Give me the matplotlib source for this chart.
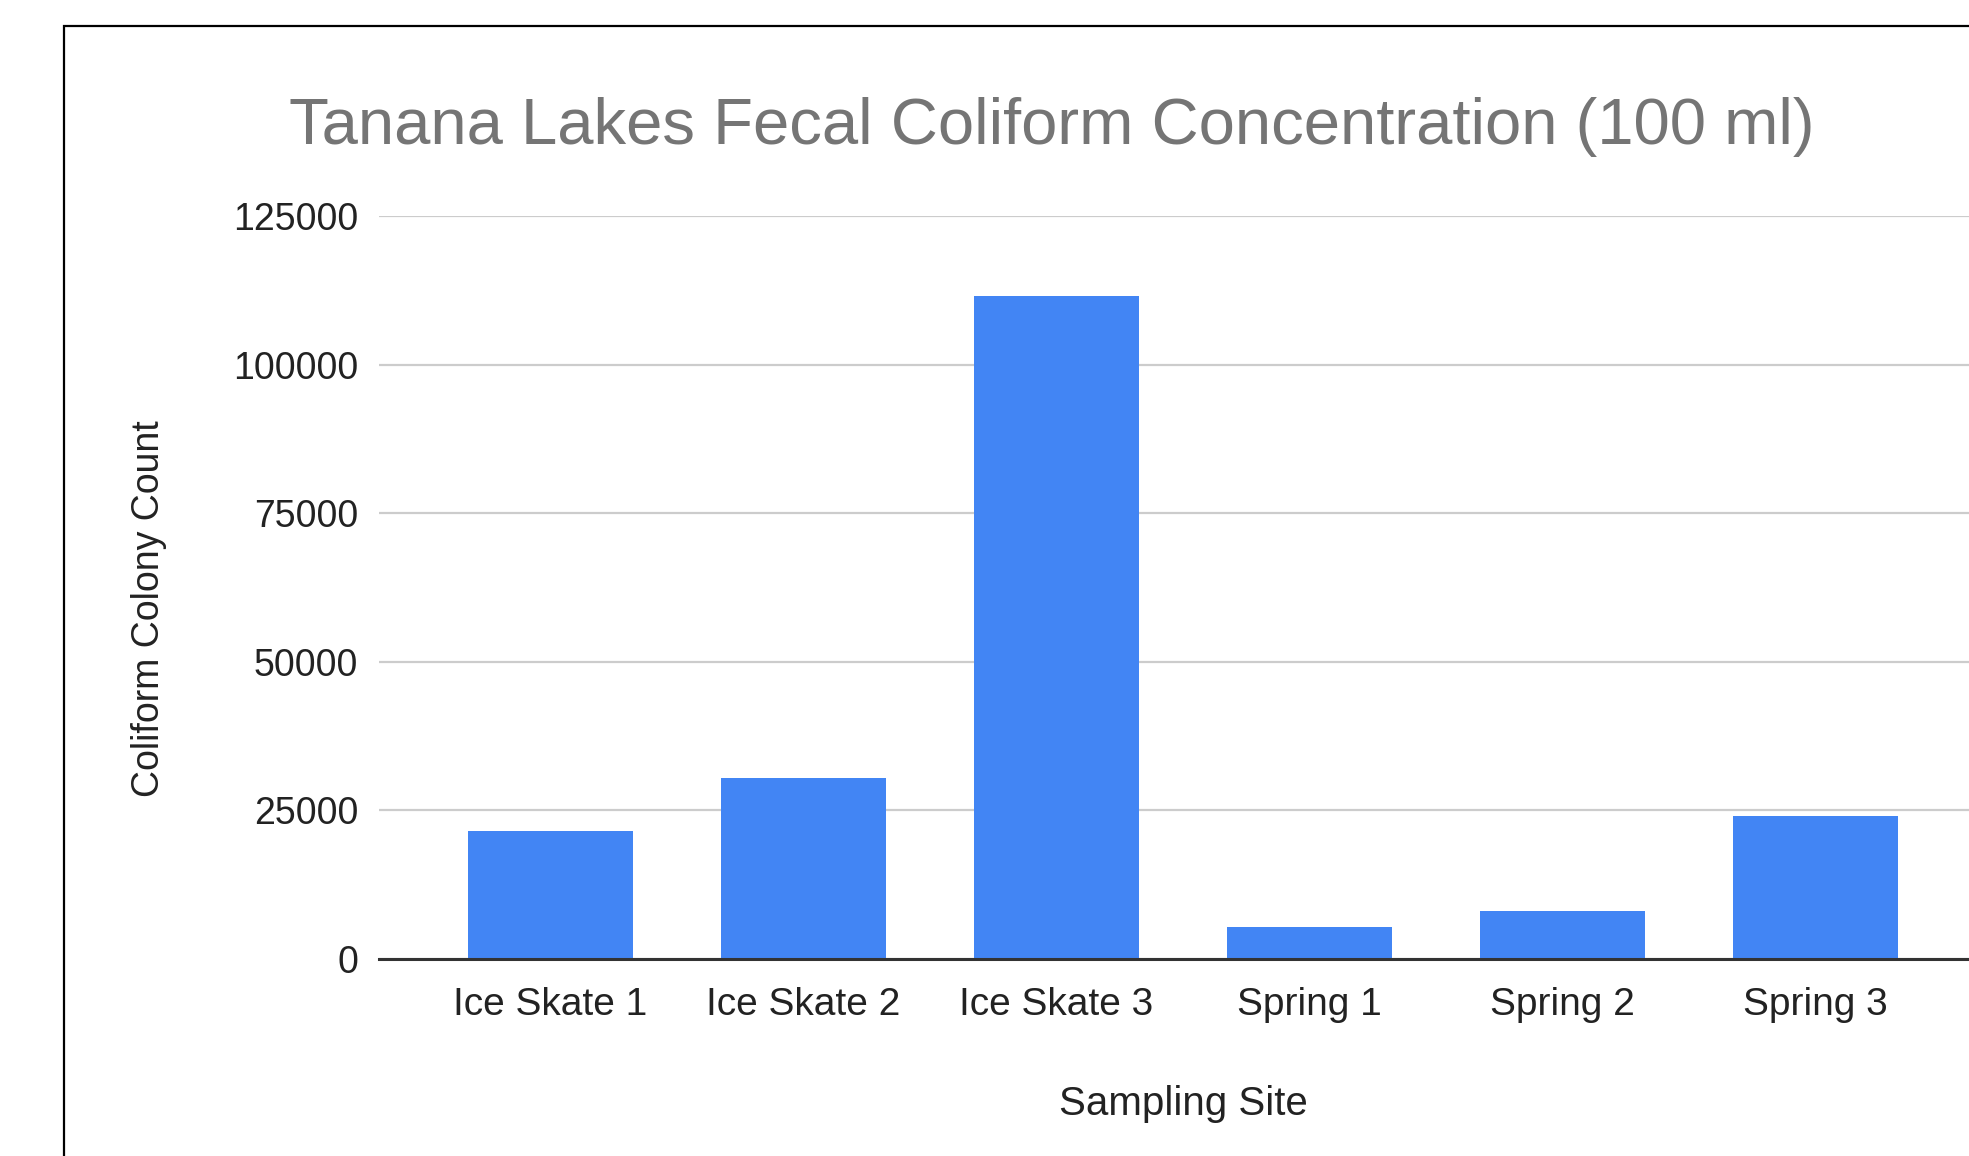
import matplotlib
matplotlib.use("Agg")
import matplotlib.pyplot as plt
from matplotlib.patches import Rectangle

# Data
sites = ["Ice Skate 1", "Ice Skate 2", "Ice Skate 3", "Spring 1", "Spring 2", "Spring 3"]
colony_counts = [21500, 30400, 111500, 5300, 8000, 24000]
y_ticks = [0, 25000, 50000, 75000, 100000, 125000]

W, H = 1969, 1156
plt.rcParams["font.family"] = ["Liberation Sans", "DejaVu Sans"]

fig = plt.figure(figsize=(W / 100, H / 100), dpi=100)
fig.patch.set_facecolor("white")

# outer frame of the chart (cut by the image edges on the right and bottom)
fig.add_artist(Rectangle((64 / W, -0.1), 1.2, 0.1 + (H - 26) / H,
                         transform=fig.transFigure, fill=False,
                         edgecolor="black", linewidth=1.6))

# axes box: left at x=379 px, baseline at y=959 px, top gridline at y=216 px
ax = fig.add_axes([379 / W, (H - 959) / H, (1987 - 379) / W, (959 - 216) / H])
x = range(len(sites))
ax.bar(x, colony_counts, width=0.65, color="#4285F4", zorder=3)

ax.set_xlim(-0.678, len(sites) - 1 + 0.678)
ax.set_ylim(0, 125000)
ax.set_yticks(y_ticks)
ax.set_yticklabels([str(v) for v in y_ticks])
ax.set_xticks(list(x))
ax.set_xticklabels(sites)

ax.grid(axis="y", color="#cccccc", linewidth=1.6, zorder=0)
for s in ["top", "right", "left"]:
    ax.spines[s].set_visible(False)
ax.spines["bottom"].set_color("#333333")
ax.spines["bottom"].set_linewidth(2.2)
ax.spines["bottom"].set_zorder(4)
ax.tick_params(axis="both", length=0, colors="#222222")
ax.tick_params(axis="y", labelsize=27, pad=15)
ax.tick_params(axis="x", labelsize=28, pad=20)

fig.text(1183 / W, 1 - 1104 / H, "Sampling Site", ha="center", va="center",
         fontsize=29, color="#222222")
fig.text(149 / W, 1 - 609 / H, "Coliform Colony Count", ha="center", va="center",
         rotation=90, fontsize=27, color="#222222")
fig.text(1052 / W, 1 - 127 / H, "Tanana Lakes Fecal Coliform Concentration (100 ml)",
         ha="center", va="center", fontsize=47, color="#757575")

fig.savefig("out.png", dpi=100)
